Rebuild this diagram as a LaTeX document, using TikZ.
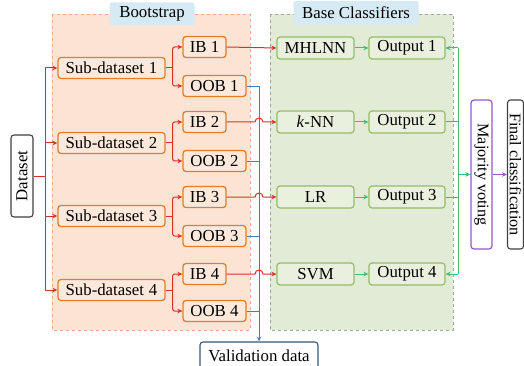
\documentclass[tikz,border=0pt]{standalone}
\usepackage{fontspec}
\setmainfont{Liberation Serif}
\usetikzlibrary{arrows.meta}
\definecolor{orangeB}{RGB}{228,124,40}
\definecolor{orangeF}{RGB}{253,233,219}
\definecolor{peach}{RGB}{252,228,212}
\definecolor{peachD}{RGB}{238,168,140}
\definecolor{greenR}{RGB}{226,235,214}
\definecolor{greenD}{RGB}{160,165,150}
\definecolor{greenB}{RGB}{150,188,100}
\definecolor{greenF}{RGB}{233,241,222}
\definecolor{lblue}{RGB}{214,234,244}
\definecolor{redL}{RGB}{214,48,42}
\definecolor{blueL}{RGB}{74,124,188}
\definecolor{greenL}{RGB}{58,190,116}
\definecolor{purpL}{RGB}{152,86,200}
\definecolor{darkB}{RGB}{64,64,64}
\definecolor{valB}{RGB}{60,84,120}
\tikzset{
  every node/.style={font=\fontsize{16.8}{18}\selectfont, inner sep=0pt},
  obox/.style={draw=orangeB, line width=1.3pt, fill=orangeF, rounded corners=3pt, minimum height=21pt},
  gbox/.style={draw=greenB, line width=1.2pt, fill=greenF, rounded corners=3pt, minimum height=22pt},
  kbox/.style={draw=darkB, line width=1.1pt, fill=white, rounded corners=3pt},
  region/.style={dashed, dash pattern=on 3pt off 3pt, line width=0.8pt},
  lbl/.style={fill=lblue, rounded corners=2pt},
  rarr/.style={draw=redL, line width=1pt, -{Stealth[length=5pt,width=4.5pt]}},
  rline/.style={draw=redL, line width=1pt},
  barr/.style={draw=blueL, line width=0.9pt},
  garr/.style={draw=greenL, line width=1pt},
  tip/.style={-{Stealth[length=5pt,width=4.5pt]}},
}
\begin{document}
\begin{tikzpicture}[x=1pt,y=-1pt]
\useasboundingbox (0,0) rectangle (524,366);
% regions
\fill[peach] (52,14) rectangle (250,330);
\draw[region, draw=peachD] (52,14) rectangle (250,330);
\fill[greenR] (270,14) rectangle (453,330);
\draw[region, draw=greenD] (270,14) rectangle (453,330);
\node[lbl, minimum width=85pt, minimum height=23pt] (lboot) at (152,14) {Bootstrap};
\node[lbl, minimum width=125pt, minimum height=24pt] (lbase) at (356,13) {Base Classifiers};

% dataset
\node[kbox, rotate=90, minimum width=82pt, minimum height=22pt] (ds) at (22,176) {Dataset};
% sub datasets
\foreach \i/\y in {1/68,2/143,3/216,4/290}{
  \node[obox, minimum width=107pt] (sd\i) at (111.5,\y) {Sub-dataset\hspace{5pt}\i};
}
\foreach \i/\y in {1/47,2/122,3/197,4/274}{
  \node[obox, minimum width=43pt] (ib\i) at (204.5,\y) {IB \i};
}
\foreach \i/\y in {1/86,2/161,3/236,4/311}{
  \node[obox, minimum width=63pt] (oob\i) at (214.5,\y) {OOB \i};
}
\node[gbox, minimum width=77pt] (c1) at (315.5,48) {MHLNN};
\node[gbox, minimum width=77pt] (c2) at (315.5,122) {\textit{k}-NN};
\node[gbox, minimum width=77pt] (c3) at (315.5,197) {LR};
\node[gbox, minimum width=77pt] (c4) at (315.5,274) {SVM};
\foreach \i/\y in {1/48,2/122,3/197,4/274}{
  \node[gbox, minimum width=76pt] (o\i) at (407,\y) {Output \i};
}
\node[draw=purpL, line width=1.2pt, fill=white, rounded corners=3pt, rotate=-90, minimum width=149pt, minimum height=21pt, font=\fontsize{16.2}{18}\selectfont] (mv) at (481.5,174.5) {Majority voting};
\node[kbox, rotate=-90, minimum width=149pt, minimum height=16pt, font=\fontsize{16.2}{18}\selectfont] (fc) at (515.5,174.5) {Final classification};
\node[draw=valB, line width=1.1pt, fill=white, rounded corners=3pt, minimum width=118pt, minimum height=27pt] (val) at (259,355.5) {Validation data};

% red: dataset to sub-datasets
\coordinate (rj) at (45,176);
\draw[rline] (ds.south) -- (rj);
\draw[rarr] (rj) |- (sd1.west);
\draw[rarr] (rj) |- (sd4.west);
\draw[rarr] (45,143) -- (sd2.west);
\draw[rarr] (45,216) -- (sd3.west);
% sub-dataset to IB / OOB
\foreach \i in {1,2,3,4}{
  \coordinate (s\i) at ([xshift=7pt]sd\i.east);
  \draw[rline] (sd\i.east) -- (s\i);
  \draw[rarr, rounded corners=2pt] (s\i) |- (ib\i.west);
  \draw[rarr, rounded corners=2pt] (s\i) |- (oob\i.west);
}
% blue: OOB to validation
\coordinate (bt) at (259,86);
\draw[barr] (oob1.east) -- (bt);
\draw[barr, tip] (bt) -- (val.north);
\foreach \i in {2,3,4}{
  \draw[barr] (oob\i.east) -- (259,0 |- oob\i.east);
}
% red: IB to classifiers (with hops)
\draw[rarr] (ib1.east) -- (c1.west);
\foreach \i in {2,3,4}{
  \draw[rarr] (ib\i.east) -- ([xshift=-4pt]bt |- ib\i.east) arc (180:0:4pt) -- (c\i.west);
}
% green: classifiers to outputs
\foreach \i in {1,2,3,4}{
  \draw[garr, tip] (c\i.east) -- (o\i.west);
}
\coordinate (g1) at (458,48);
\coordinate (g4) at (458,274);
\draw[garr] (g1) -- (g4);
\draw[garr, tip] (g1) -- (o1.east);
\draw[garr, tip] (g4) -- (o4.east);
\draw[garr] (o2.east) -- (g1 |- o2.east);
\draw[garr] (o3.east) -- (g1 |- o3.east);
\draw[garr, tip] (g1 |- mv.south) -- (mv.south);
\draw[draw=purpL, line width=1pt, tip] (mv.north) -- (fc.south);
\end{tikzpicture}
\end{document}
